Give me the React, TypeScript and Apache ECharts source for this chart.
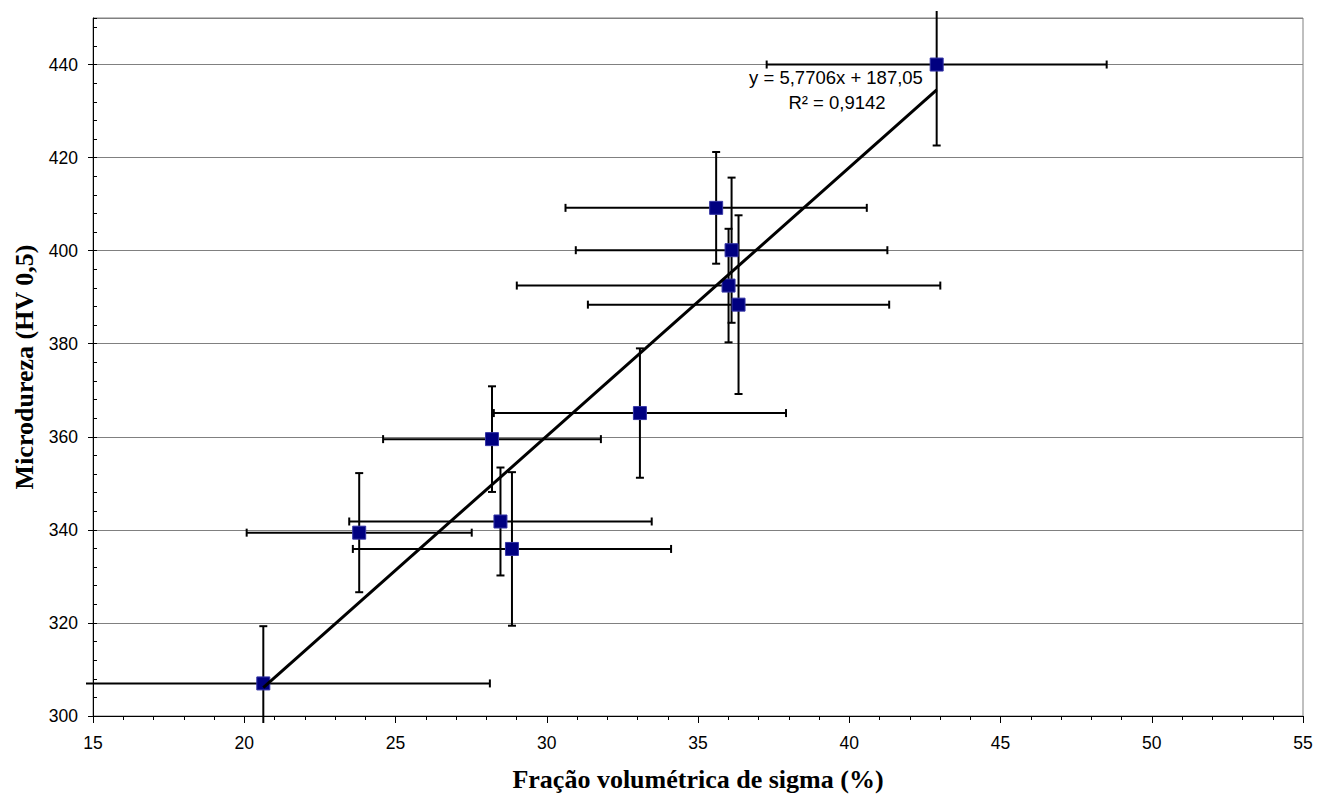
import React, { useEffect, useRef } from "react";
import * as echarts from "echarts";

// Data
const xValues = [20.63, 23.8, 28.19, 28.47, 28.85, 33.08, 35.6, 36.11, 36.01, 36.34, 42.89];
const yValues = [307.0, 339.4, 359.5, 341.8, 335.9, 365.1, 409.2, 400.1, 392.5, 388.4, 440.0];
const xErrors = [7.49, 3.72, 3.6, 5.0, 5.26, 4.83, 4.98, 5.15, 7.0, 4.98, 5.62];
const yErrors = [12.3, 12.8, 11.35, 11.6, 16.5, 13.9, 12.0, 15.6, 12.2, 19.2, 17.4];

const trendSlope = 5.7706;
const trendIntercept = 187.05;
const equationLine1 = "y = 5,7706x + 187,05";
const equationLine2 = "R² = 0,9142";

const xAxisTitle = "Fração volumétrica de sigma (%)";
const yAxisTitle = "Microdureza (HV 0,5)";

const SANS = "'Liberation Sans', Arial, sans-serif";
const SERIF = "'Liberation Serif', 'Times New Roman', serif";

export default function App() {
  const ref = useRef<HTMLDivElement>(null);

  useEffect(() => {
    if (!ref.current) return;
    const chart = echarts.init(ref.current, null, { renderer: "svg" });

    const points = xValues.map((x, i) => [x, yValues[i], xErrors[i], yErrors[i]]);
    const xMin = Math.min(...xValues);
    const xMax = Math.max(...xValues);
    const trend = [
      [xMin, trendSlope * xMin + trendIntercept],
      [xMax, trendSlope * xMax + trendIntercept],
    ];

    const renderErrorBars = (params: any, api: any) => {
      const x = api.value(0);
      const y = api.value(1);
      const xe = api.value(2);
      const ye = api.value(3);
      const cs = params.coordSys;
      const c = api.coord([x, y]);
      const left = api.coord([x - xe, y])[0];
      const right = api.coord([x + xe, y])[0];
      const top = api.coord([x, y + ye])[1];
      const bottom = api.coord([x, y - ye])[1];
      const m = 7;
      const minX = cs.x - m;
      const maxX = cs.x + cs.width + m;
      const minY = cs.y - m;
      const maxY = cs.y + cs.height + m;
      const l = Math.max(left, minX);
      const r = Math.min(right, maxX);
      const t = Math.max(top, minY);
      const b = Math.min(bottom, maxY);
      const style = { stroke: "#000", lineWidth: 2 };
      const h = 4;
      const children: any[] = [
        { type: "line", shape: { x1: l, y1: c[1], x2: r, y2: c[1] }, style },
        { type: "line", shape: { x1: c[0], y1: t, x2: c[0], y2: b }, style },
      ];
      if (left >= minX) children.push({ type: "line", shape: { x1: left, y1: c[1] - h, x2: left, y2: c[1] + h }, style });
      if (right <= maxX) children.push({ type: "line", shape: { x1: right, y1: c[1] - h, x2: right, y2: c[1] + h }, style });
      if (top >= minY) children.push({ type: "line", shape: { x1: c[0] - h, y1: top, x2: c[0] + h, y2: top }, style });
      if (bottom <= maxY) children.push({ type: "line", shape: { x1: c[0] - h, y1: bottom, x2: c[0] + h, y2: bottom }, style });
      return { type: "group", children };
    };

    chart.setOption({
      animation: false,
      backgroundColor: "#fff",
      grid: {
        left: 93,
        right: 26,
        top: 18,
        bottom: 81,
        show: true,
        borderColor: "#808080",
        borderWidth: 1,
        backgroundColor: "transparent",
      },
      xAxis: {
        type: "value",
        min: 15,
        max: 55,
        interval: 5,
        axisLine: { show: true, onZero: false, lineStyle: { color: "#000", width: 1 } },
        axisTick: { show: true, length: 7, lineStyle: { color: "#000" } },
        minorTick: { show: true, splitNumber: 5, length: 4, lineStyle: { color: "#000" } },
        splitLine: { show: false },
        axisLabel: { fontFamily: SANS, fontSize: 17.5, color: "#000", margin: 18 },
        name: xAxisTitle,
        nameLocation: "middle",
        nameGap: 50,
        nameTextStyle: { fontFamily: SERIF, fontWeight: "bold", fontSize: 26, color: "#000" },
      },
      yAxis: [
        {
          type: "value",
          min: 300,
          max: 450,
          interval: 20,
          axisLine: { show: true, onZero: false, lineStyle: { color: "#000", width: 1 } },
          axisTick: { show: true, length: 5, lineStyle: { color: "#000" } },
          splitLine: { show: true, lineStyle: { color: "#808080", width: 1 } },
          axisLabel: { fontFamily: SANS, fontSize: 17.5, color: "#000", margin: 15, showMaxLabel: false },
          name: yAxisTitle,
          nameLocation: "middle",
          nameGap: 52,
          nameTextStyle: { fontFamily: SERIF, fontWeight: "bold", fontSize: 26, color: "#000" },
        },
        {
          type: "value",
          min: 300,
          max: 450,
          interval: 4,
          position: "left",
          axisLine: { show: false },
          axisTick: { show: true, inside: true, length: 4, lineStyle: { color: "#000" } },
          axisLabel: { show: false },
          splitLine: { show: false },
        },
      ],
      graphic: [
        {
          type: "text",
          x: 836,
          y: 77,
          style: {
            text: equationLine1,
            fontFamily: SANS,
            fontSize: 18.5,
            fill: "#000",
            textAlign: "center",
            textVerticalAlign: "middle",
          },
          z: 10,
        },
        {
          type: "text",
          x: 837,
          y: 102,
          style: {
            text: equationLine2,
            fontFamily: SANS,
            fontSize: 18.5,
            fill: "#000",
            textAlign: "center",
            textVerticalAlign: "middle",
          },
          z: 10,
        },
      ],
      series: [
        {
          type: "custom",
          name: "Barras de erro",
          renderItem: renderErrorBars,
          data: points,
          encode: { x: 0, y: 1 },
          z: 2,
          silent: true,
        },
        {
          type: "scatter",
          name: "Dados",
          data: points.map((p) => [p[0], p[1]]),
          symbol: "rect",
          symbolSize: 13,
          itemStyle: { color: "#000080", borderColor: "#3535a5", borderWidth: 1, opacity: 1 },
          z: 3,
        },
        {
          type: "line",
          name: "Linear",
          data: trend,
          showSymbol: false,
          symbol: "none",
          lineStyle: { color: "#000", width: 3 },
          z: 4,
        },
      ],
    });

    return () => chart.dispose();
  }, []);

  return (
    <div
      ref={ref}
      style={{ position: "fixed", left: 0, top: 0, width: 1329, height: 797, background: "#fff" }}
    />
  );
}
